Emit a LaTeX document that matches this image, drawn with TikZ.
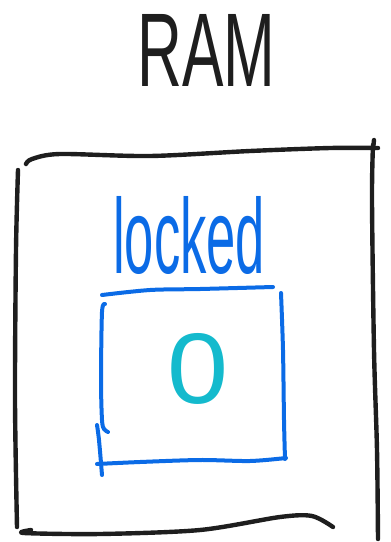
\documentclass[tikz,border=0pt]{standalone}
\usepackage{fontspec}
\setmainfont{Liberation Sans}
\usepackage{graphicx}
\definecolor{inkblack}{HTML}{1E1E1E}
\definecolor{inkblue}{HTML}{0B6BE6}
\definecolor{inkcyan}{HTML}{14BACD}
\tikzset{
  blackstroke/.style={draw=inkblack, line width=4.4pt, line cap=round, line join=round},
  bluestroke/.style={draw=inkblue, line width=4pt, line cap=round, line join=round},
  sketchtext/.style={inner sep=0pt, anchor=south west}
}
\begin{document}
\begin{tikzpicture}[x=1pt,y=-1pt]
\useasboundingbox (0,0) rectangle (391,542);
% title
\node[sketchtext, text=inkblack] (ram) at (137,87) {\resizebox{138pt}{72pt}{RAM}};
% outer box
\draw[blackstroke] plot[smooth] coordinates {(26,164) (32,159) (60,154) (150,156) (250,151) (330,148) (378,148)};
\draw[blackstroke] (374,140) -- (373,150);
\draw[blackstroke] plot[smooth] coordinates {(373,145) (372,200) (374,350) (377,450) (378,539)};
\draw[blackstroke] plot[smooth] coordinates {(18,170) (16,250) (15,400) (17,527)};
\draw[blackstroke] plot[smooth] coordinates {(31,530) (24,533) (100,534) (200,530) (280,517) (312,516) (333,527)};
% locked label
\node[sketchtext, text=inkblue] (locked) at (113,275) {\resizebox{152pt}{77pt}{locked}};
% inner box
\draw[bluestroke] plot[smooth] coordinates {(102,295) (150,290) (200,289) (273,287)};
\draw[bluestroke] plot[smooth] coordinates {(281,293) (283,350) (284,420) (285,459)};
\draw[bluestroke] plot[smooth] coordinates {(105,304) (102,312) (101,380) (102,420) (104,429) (108,432)};
\draw[bluestroke] plot[smooth] coordinates {(97,425) (99,440) (102,475)};
\draw[bluestroke] plot[smooth] coordinates {(97,464) (140,462) (200,460) (250,461) (286,458)};
% value
\node[sketchtext, text=inkcyan] (value) at (167,405) {\resizebox{61pt}{70pt}{0}};
\end{tikzpicture}
\end{document}
